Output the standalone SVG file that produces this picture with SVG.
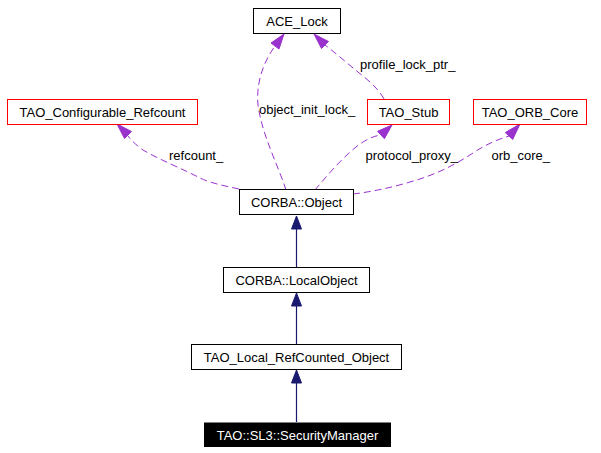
<svg xmlns="http://www.w3.org/2000/svg" width="601" height="453" viewBox="0 0 601 453">
<style>
text{font-family:"Liberation Sans",Arial,sans-serif;font-size:13px;fill:#000}
.n{fill:#fff;stroke:#000;stroke-width:1}
.r{fill:#fff;stroke:#ff0000;stroke-width:1}
.c{text-anchor:middle}
.d{fill:none;stroke:#9a32cd;stroke-width:1;stroke-dasharray:7,4}
.ah{fill:#9a32cd;stroke:#9a32cd}
.i{fill:none;stroke:#191970;stroke-width:1.2}
.ih{fill:#191970;stroke:#191970}
</style>
<rect width="601" height="453" fill="#fff"/>
<g id="edges">
<path class="d" d="M239,189 C225,186 210,183 200,178 C185,170 160,160 143,150 C136,145 131,140 128,136"/>
<polygon class="ah" points="117,124 131.5,131.5 124.5,138.5"/>
<path class="d" d="M286,190 C278,165 262,135 258,105 C256,85 262,64 275,46"/>
<polygon class="ah" points="284,34 279,49 271,43"/>
<path class="d" d="M384,99 C378,88 368,80 358,72 C348,64 338,55 325,45"/>
<polygon class="ah" points="314,34 328.5,41.5 321.5,48.5"/>
<path class="d" d="M315,190 C325,178 340,160 356,147 C365,140 373,136 381,135"/>
<polygon class="ah" points="392,125 384.4,138.7 377.6,131.3"/>
<path class="d" d="M353,194 C370,192 390,188 410,182 C435,175 455,165 473,153 C485,145 496,140 509,136"/>
<polygon class="ah" points="520,124 512.7,139.4 505.3,132.6"/>
<line class="i" x1="296.5" y1="267" x2="296.5" y2="228"/>
<polygon class="ih" points="296.5,216 291.5,229 301.5,229"/>
<line class="i" x1="296.5" y1="344" x2="296.5" y2="305"/>
<polygon class="ih" points="296.5,293 291.5,306 301.5,306"/>
<line class="i" x1="296.5" y1="422" x2="296.5" y2="383"/>
<polygon class="ih" points="296.5,370 291.5,383 301.5,383"/>
<text x="360" y="69">profile_lock_ptr_</text>
<text x="259" y="114">object_init_lock_</text>
<text x="169" y="160">refcount_</text>
<text x="365.5" y="160">protocol_proxy_</text>
<text x="491.5" y="160">orb_core_</text>
</g>
<g id="ACE_Lock"><rect class="n" x="253.5" y="8.5" width="87" height="25"/><text class="c" x="297" y="25.5">ACE_Lock</text></g>
<g id="TAO_Configurable_Refcount"><rect class="r" x="7.5" y="99.5" width="190" height="25"/><text class="c" x="102.5" y="116.5">TAO_Configurable_Refcount</text></g>
<g id="TAO_Stub"><rect class="r" x="367.5" y="99.5" width="82" height="25"/><text class="c" x="408.5" y="116.5">TAO_Stub</text></g>
<g id="TAO_ORB_Core"><rect class="r" x="473.5" y="99.5" width="113" height="25"/><text class="c" x="530" y="116.5">TAO_ORB_Core</text></g>
<g id="CORBA_Object"><rect class="n" x="239.5" y="189.5" width="114" height="25"/><text class="c" x="296.5" y="207">CORBA::Object</text></g>
<g id="CORBA_LocalObject"><rect class="n" x="223.5" y="267.5" width="146" height="25"/><text class="c" x="296.5" y="285">CORBA::LocalObject</text></g>
<g id="TAO_Local_RefCounted_Object"><rect class="n" x="191.5" y="344.5" width="210" height="25"/><text class="c" x="296.5" y="362">TAO_Local_RefCounted_Object</text></g>
<g id="TAO_SL3_SecurityManager"><rect x="204" y="422.5" width="187" height="24.5" fill="#000"/><text class="c" x="297.5" y="439.5" style="fill:#fff">TAO::SL3::SecurityManager</text></g>
</svg>
